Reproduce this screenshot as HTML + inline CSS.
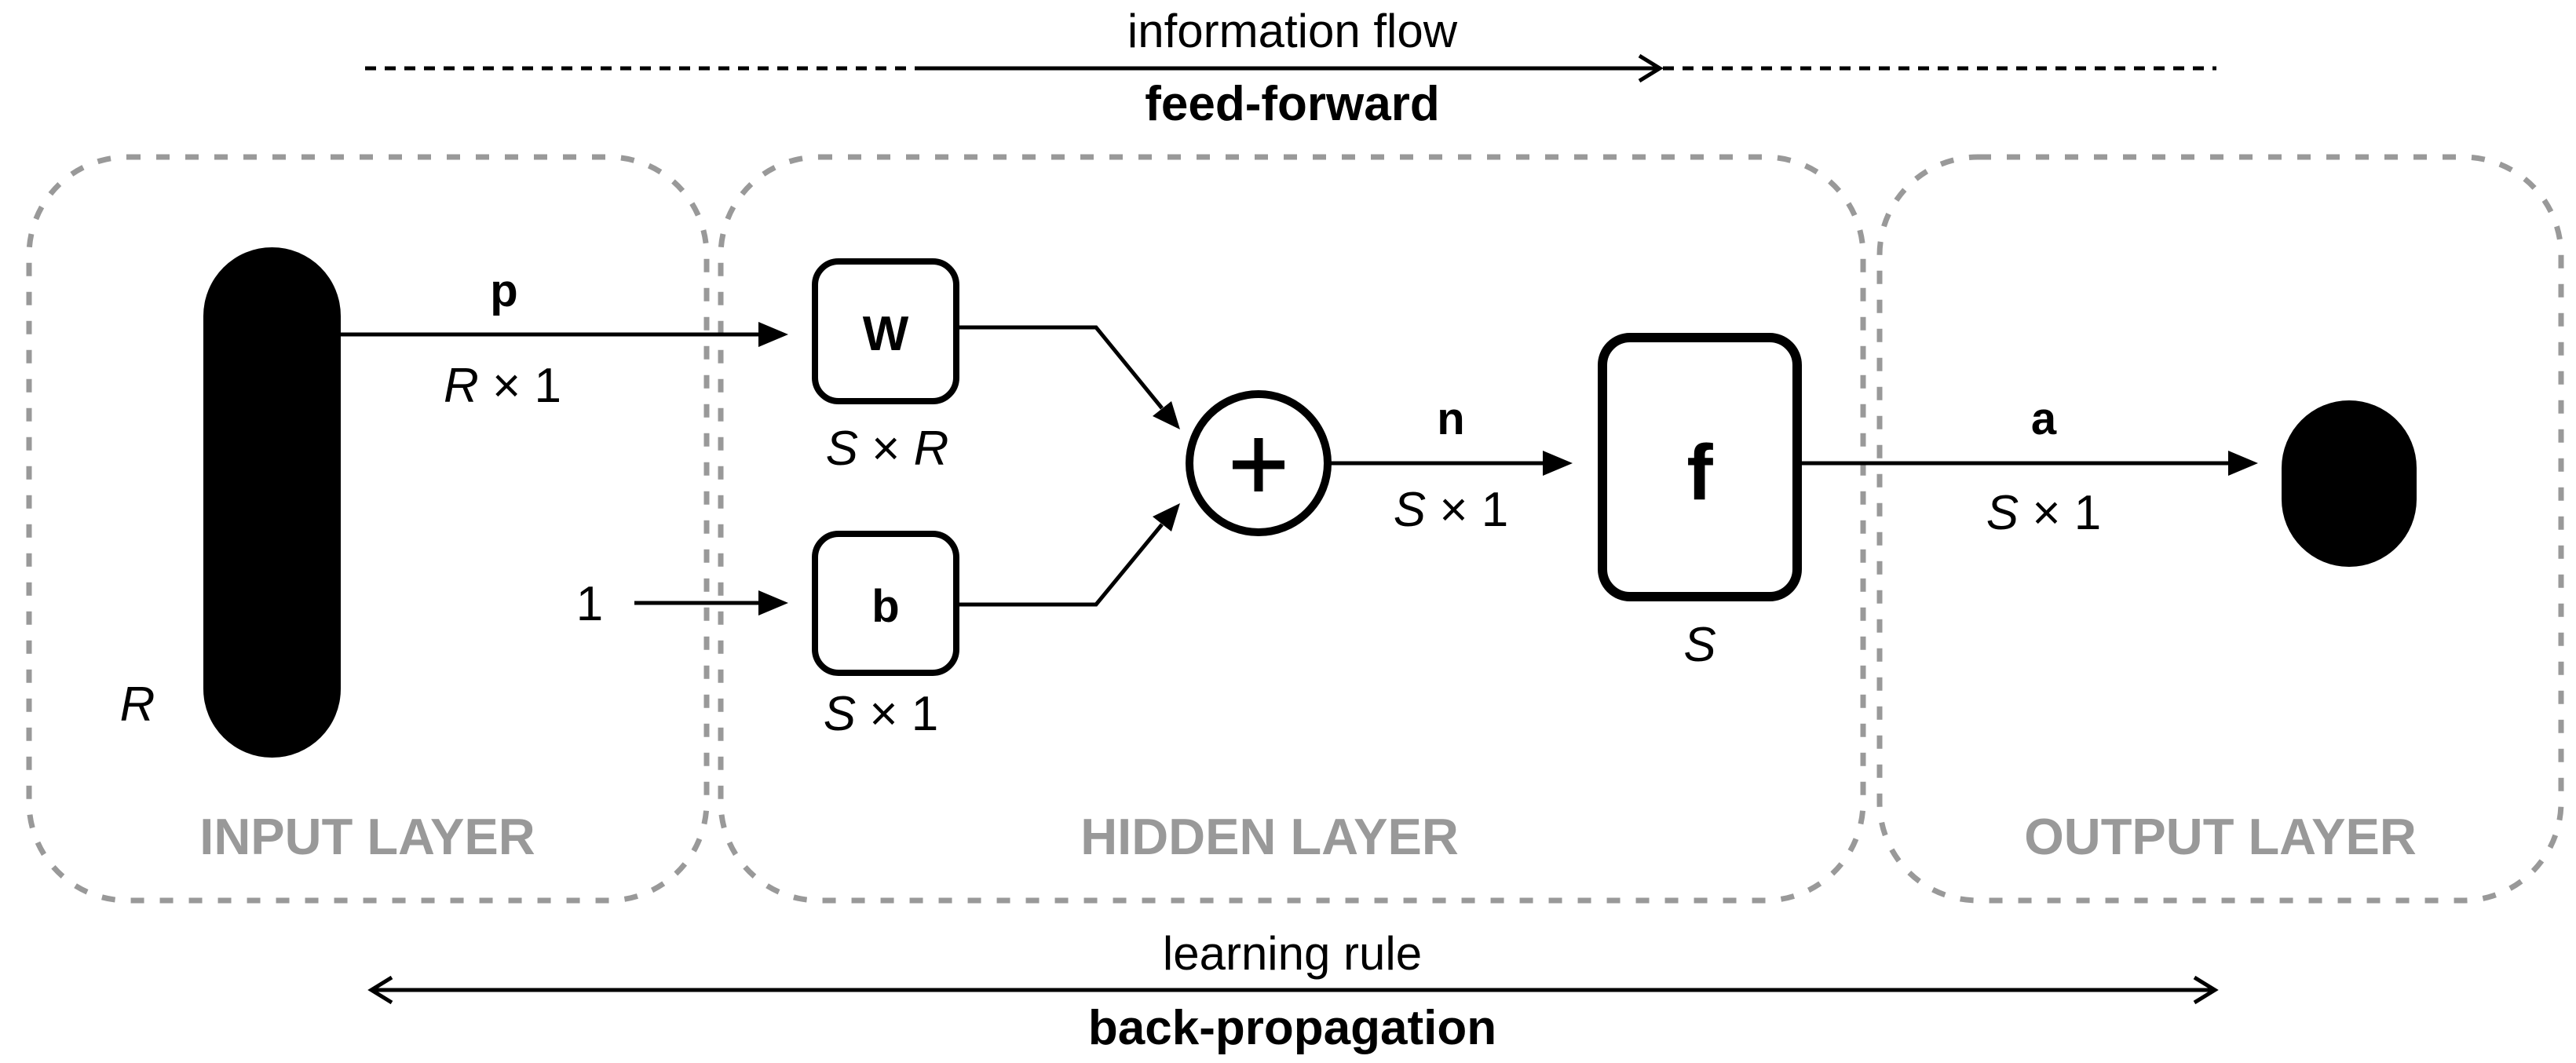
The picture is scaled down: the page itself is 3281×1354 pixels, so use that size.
<!DOCTYPE html>
<html><head><meta charset="utf-8"><style>
html,body{margin:0;padding:0;background:#fff;}
svg{display:block;}
text{font-family:"Liberation Sans",Arial,sans-serif;}
</style></head><body>
<svg width="3281" height="1354" viewBox="0 0 3281 1354" xmlns="http://www.w3.org/2000/svg">
<!-- layer boxes -->
<g fill="none" stroke="#999" stroke-width="7" stroke-dasharray="17 20">
<rect x="37" y="200" width="863" height="947" rx="125" ry="125"/>
<rect x="918" y="200" width="1455" height="947" rx="125" ry="125"/>
<rect x="2394" y="200" width="868" height="947" rx="125" ry="125"/>
</g>
<g font-weight="bold" fill="#999" font-size="65" text-anchor="middle">
<text x="468" y="1088">INPUT LAYER</text>
<text x="1617" y="1088">HIDDEN LAYER</text>
<text x="2828" y="1088">OUTPUT LAYER</text>
</g>
<!-- top info flow -->
<line x1="465" y1="87" x2="1171" y2="87" stroke="#000" stroke-width="5" stroke-dasharray="14 11"/>
<line x1="1171" y1="87" x2="2114" y2="87" stroke="#000" stroke-width="5"/>
<polyline points="2088,71 2114,87 2088,103" fill="none" stroke="#000" stroke-width="5"/>
<line x1="2118" y1="87" x2="2823" y2="87" stroke="#000" stroke-width="5" stroke-dasharray="14 11"/>
<text x="1646" y="60" font-size="60" text-anchor="middle">information flow</text>
<text x="1646" y="153" font-size="62" font-weight="bold" text-anchor="middle">feed-forward</text>
<!-- bottom learning rule -->
<line x1="473" y1="1261" x2="2821" y2="1261" stroke="#000" stroke-width="5"/>
<polyline points="499,1245 473,1261 499,1277" fill="none" stroke="#000" stroke-width="5"/>
<polyline points="2795,1245 2821,1261 2795,1277" fill="none" stroke="#000" stroke-width="5"/>
<text x="1646" y="1235" font-size="60" text-anchor="middle">learning rule</text>
<text x="1646" y="1330" font-size="62" font-weight="bold" text-anchor="middle">back-propagation</text>
<!-- input pill -->
<rect x="259" y="315" width="175" height="650" rx="87.5" ry="87.5" fill="#000"/>
<text x="175" y="918" font-size="62" font-style="italic" text-anchor="middle">R</text>
<!-- p arrow -->
<line x1="434" y1="426" x2="970" y2="426" stroke="#000" stroke-width="5"/>
<polygon points="1004,426 966,410 966,442" fill="#000"/>
<text x="642" y="390" font-size="58" font-weight="bold" text-anchor="middle">p</text>
<text x="640" y="512" font-size="62" text-anchor="middle"><tspan font-style="italic">R</tspan> × 1</text>
<!-- 1 arrow -->
<text x="751" y="790" font-size="62" text-anchor="middle">1</text>
<line x1="808" y1="768" x2="970" y2="768" stroke="#000" stroke-width="5"/>
<polygon points="1004,768 966,752 966,784" fill="#000"/>
<!-- W and b boxes -->
<rect x="1038" y="333" width="180" height="178" rx="30" fill="#fff" stroke="#000" stroke-width="8"/>
<text x="1128" y="446" font-size="62" font-weight="bold" text-anchor="middle">W</text>
<text x="1130" y="592" font-size="62" text-anchor="middle"><tspan font-style="italic">S</tspan> × <tspan font-style="italic">R</tspan></text>
<rect x="1038" y="680" width="180" height="177" rx="30" fill="#fff" stroke="#000" stroke-width="8"/>
<text x="1128" y="792" font-size="58" font-weight="bold" text-anchor="middle">b</text>
<text x="1122" y="930" font-size="62" text-anchor="middle"><tspan font-style="italic">S</tspan> × 1</text>
<!-- connectors into sum -->
<polyline points="1222,417 1396,417 1480,520" fill="none" stroke="#000" stroke-width="5"/>
<polygon points="1503,547 1468,530 1492,511" fill="#000"/>
<polyline points="1222,770 1396,770 1480,668" fill="none" stroke="#000" stroke-width="5"/>
<polygon points="1503,641 1492,677 1468,658" fill="#000"/>
<!-- sum circle -->
<circle cx="1603" cy="590" r="88" fill="#fff" stroke="#000" stroke-width="10"/>
<line x1="1570" y1="592" x2="1636" y2="592" stroke="#000" stroke-width="11"/>
<line x1="1603" y1="558" x2="1603" y2="626" stroke="#000" stroke-width="11"/>
<!-- n arrow -->
<line x1="1692" y1="590" x2="1980" y2="590" stroke="#000" stroke-width="5"/>
<polygon points="2003,590 1965,574 1965,606" fill="#000"/>
<text x="1848" y="553" font-size="58" font-weight="bold" text-anchor="middle">n</text>
<text x="1848" y="670" font-size="62" text-anchor="middle"><tspan font-style="italic">S</tspan> × 1</text>
<!-- f box -->
<rect x="2041" y="430" width="248" height="330" rx="35" fill="#fff" stroke="#000" stroke-width="12"/>
<text x="2165" y="636" font-size="100" font-weight="bold" text-anchor="middle">f</text>
<text x="2165" y="842" font-size="62" font-style="italic" text-anchor="middle">S</text>
<!-- a arrow -->
<line x1="2295" y1="590" x2="2850" y2="590" stroke="#000" stroke-width="5"/>
<polygon points="2876,590 2838,574 2838,606" fill="#000"/>
<text x="2603" y="553" font-size="58" font-weight="bold" text-anchor="middle">a</text>
<text x="2603" y="674" font-size="62" text-anchor="middle"><tspan font-style="italic">S</tspan> × 1</text>
<!-- output pill -->
<rect x="2906" y="510" width="172" height="212" rx="86" ry="86" fill="#000"/>
</svg>
</body></html>
